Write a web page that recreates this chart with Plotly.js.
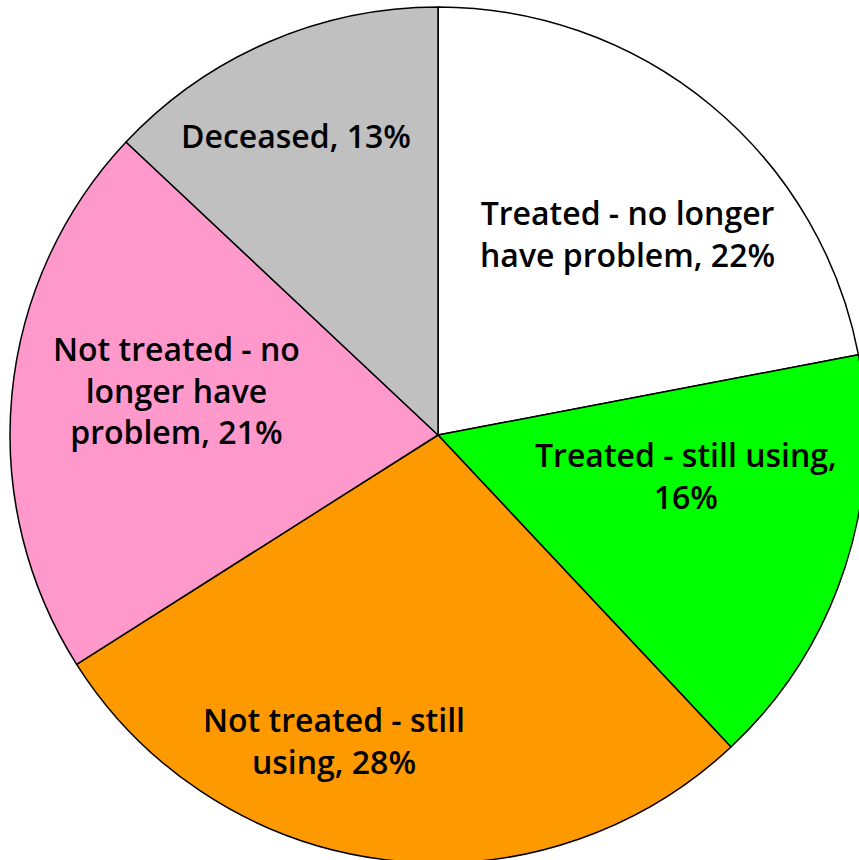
<!DOCTYPE html>
<html>
<head>
<meta charset="utf-8">
<script src="https://cdn.plot.ly/plotly-3.0.1.min.js"></script>
<style>
html,body{margin:0;padding:0;overflow:hidden;background:#fff;}
#chart{width:880px;height:880px;}
</style>
</head>
<body>
<div id="chart"></div>
<script>
var categories = ["Treated - no longer have problem", "Treated - still using", "Not treated - still using", "Not treated - no longer have problem", "Deceased"];
var displayNames = ["Treated - no longer<br>have problem", "Treated - still using", "Not treated - still<br>using", "Not treated - no<br>longer have<br>problem", "Deceased"];
var separators = [", ", ",<br>", ", ", ", ", ", "];
var values = [22, 16, 28, 21, 13];
var colors = ["#FFFFFF", "#00FF00", "#FF9900", "#FF99CC", "#C0C0C0"];

// label placement (style): angular shift from slice mid-angle (deg) and radius fraction
var labelAngleShift = [3.6, -8.8, 11.6, 4.3, -1.9];
var labelRadius = [0.647, 0.587, 0.753, 0.621, 0.774];

var W = 880, H = 880;
var pieLeft = 10, pieRight = 866, pieTop = 7, pieBottom = 863;
var cx = (pieLeft + pieRight) / 2, cy = (pieTop + pieBottom) / 2, R = (pieRight - pieLeft) / 2;

var total = values.reduce(function(a, b){ return a + b; }, 0);
var cum = 0;
var annotations = values.map(function(v, i){
  var mid = (cum + v / 2) / total * 360;
  cum += v;
  var ang = (mid + labelAngleShift[i]) * Math.PI / 180;
  var r = labelRadius[i] * R;
  var px = cx + r * Math.sin(ang);
  var py = cy - r * Math.cos(ang);
  var pct = Math.round(v / total * 100);
  return {
    xref: "paper", yref: "paper",
    x: px / W, y: 1 - py / H,
    xanchor: "center", yanchor: "middle",
    text: displayNames[i] + separators[i] + pct + "%",
    showarrow: false, align: "center",
    font: {family: "'Open Sans', 'DejaVu Sans', sans-serif", size: 32, color: "#000000", weight: 600}
  };
});

var trace = {
  type: "pie",
  labels: categories,
  values: values,
  textinfo: "none",
  sort: false,
  direction: "clockwise",
  rotation: 0,
  marker: {colors: colors, line: {color: "#000000", width: 1.5}},
  hoverinfo: "none",
  domain: {x: [pieLeft / W, pieRight / W], y: [1 - pieBottom / H, 1 - pieTop / H]},
  showlegend: false
};

var layout = {
  width: W, height: H,
  margin: {l: 0, r: 0, t: 0, b: 0},
  paper_bgcolor: "#ffffff",
  annotations: annotations,
  showlegend: false
};

Plotly.newPlot("chart", [trace], layout, {staticPlot: true, displayModeBar: false});
</script>
</body>
</html>
